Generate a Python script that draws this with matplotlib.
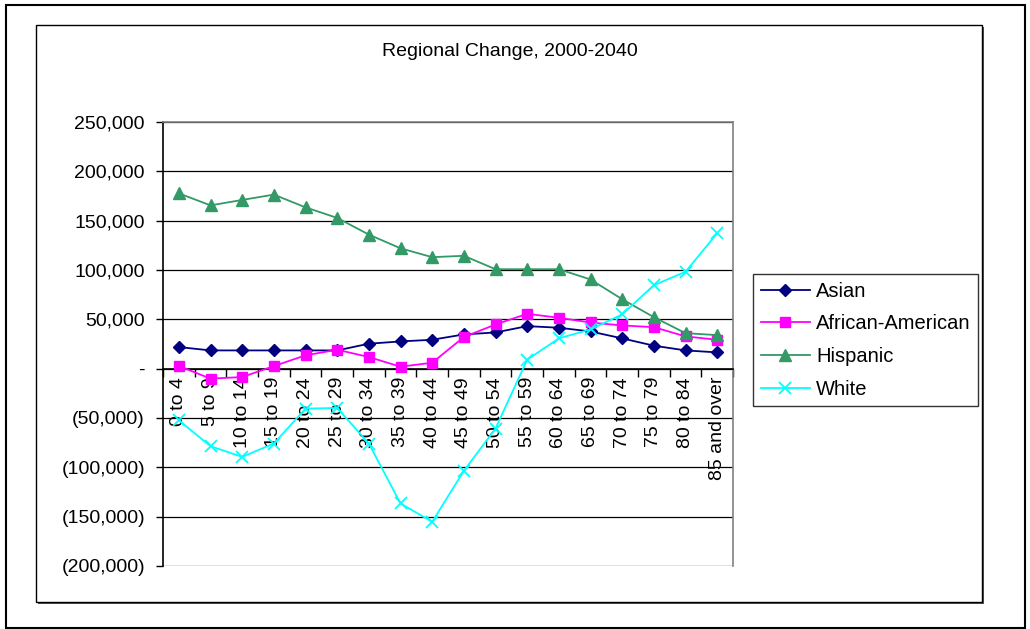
import matplotlib.pyplot as plt
from matplotlib.patches import Rectangle

plt.rcParams['font.family'] = ['Liberation Sans', 'DejaVu Sans']

# age groups
ages = ["0 to 4", "5 to 9", "10 to 14", "15 to 19", "20 to 24", "25 to 29",
        "30 to 34", "35 to 39", "40 to 44", "45 to 49", "50 to 54", "55 to 59",
        "60 to 64", "65 to 69", "70 to 74", "75 to 79", "80 to 84", "85 and over"]

# change 2000-2040 by group
asian = [21900, 18500, 18500, 18500, 18500, 18500, 25300, 27600, 29300,
         34700, 36700, 43100, 41500, 37700, 30700, 23300, 18500, 16500]
african_american = [2700, -10100, -8500, 2600, 13500, 19200, 11800, 2000, 6000,
                    32000, 44800, 55600, 51600, 46800, 43800, 42100, 32700, 29300]
hispanic = [177700, 165500, 171000, 176400, 163500, 152800, 135900, 122000, 113000,
            114400, 100800, 100800, 100800, 90400, 70400, 52200, 36000, 34000]
white = [-52300, -78600, -89400, -75900, -40500, -39800, -75900, -136600, -155200,
         -103600, -60700, 9100, 30700, 39800, 55000, 84600, 98200, 137200]

y_ticks = [-200000, -150000, -100000, -50000, 0, 50000, 100000, 150000, 200000, 250000]
y_labels = ["(200,000)", "(150,000)", "(100,000)", "(50,000)", "-",
            "50,000", "100,000", "150,000", "200,000", "250,000"]

W, H = 1030, 629
fig = plt.figure(figsize=(W / 100, H / 100), dpi=100)

# outer border and chart area border (with a small shadow), kept behind the axes
fig.patches.append(Rectangle((6 / W, 1 - 628 / H), 1019 / W, 623 / H,
                             transform=fig.transFigure, fill=False,
                             edgecolor="black", lw=1.5, zorder=-10))
fig.patches.append(Rectangle((38 / W, 1 - 604 / H), 946 / W, 577 / H,
                             transform=fig.transFigure, facecolor="#555555",
                             edgecolor="none", zorder=-10))
fig.patches.append(Rectangle((36 / W, 1 - 602 / H), 946 / W, 577 / H,
                             transform=fig.transFigure, facecolor="white",
                             edgecolor="black", lw=1.0, zorder=-9))

ax = fig.add_axes([163 / W, 1 - 566 / H, 570 / W, 444 / H])
# category axis sits on zero (set first, it resets the ticks)
ax.spines["bottom"].set_position(("data", 0))
x = list(range(len(ages)))

ax.plot(x, asian, color="#000080", marker="D", ms=6.5, lw=1.3, label="Asian", zorder=3)
ax.plot(x, african_american, color="#FF00FF", marker="s", ms=7.5, lw=1.3,
        label="African-American", zorder=3)
ax.plot(x, hispanic, color="#339966", marker="^", ms=8.5, lw=1.3, label="Hispanic", zorder=3)
ax.plot(x, white, color="#00FFFF", marker="x", ms=9, mew=1.3, lw=1.3, label="White", zorder=3)

ax.set_xlim(-0.5, len(ages) - 0.5)
ax.set_ylim(-200000, 250000)
ax.set_yticks(y_ticks)
ax.set_yticklabels(y_labels, fontsize=14)
ax.tick_params(axis="y", direction="out", length=5, width=1, pad=8)

ax.set_xticks(x)
ax.set_xticklabels(ages, rotation=90, fontsize=14, va="top")
ax.set_xticks([i - 0.5 for i in range(len(ages) + 1)], minor=True)
ax.tick_params(axis="x", which="major", length=0, pad=6)
ax.tick_params(axis="x", which="minor", direction="out", length=6, width=1)

ax.spines["bottom"].set_linewidth(1.2)
ax.spines["left"].set_linewidth(1.2)
for s in ["top", "right"]:
    ax.spines[s].set_color("#808080")
    ax.spines[s].set_linewidth(1.2)

ax.grid(axis="y", color="black", lw=0.9)
ax.set_axisbelow(True)

fig.text(510 / W, 1 - 52 / H, "Regional Change, 2000-2040", ha="center", va="center",
         fontsize=14)

leg = ax.legend(loc="upper left", bbox_to_anchor=(753 / W, 1 - 274 / H),
                bbox_transform=fig.transFigure, borderaxespad=0, fontsize=14.5,
                frameon=True, fancybox=False, edgecolor="black", handlelength=2.45,
                handletextpad=0.3, labelspacing=0.68, borderpad=0.38)
leg.get_frame().set_linewidth(1.0)

fig.savefig("out.png", dpi=100)
